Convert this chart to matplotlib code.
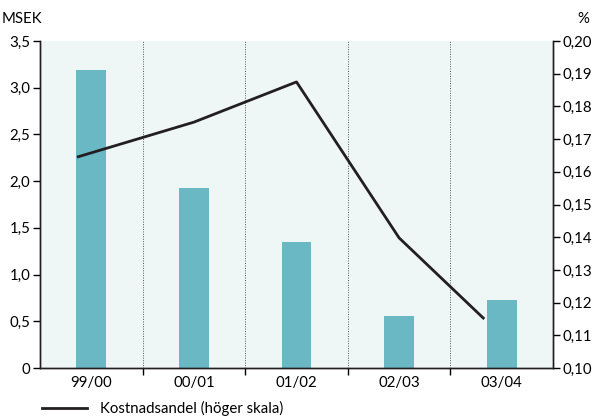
import matplotlib
matplotlib.use("Agg")
import matplotlib.pyplot as plt
import numpy as np
from matplotlib.lines import Line2D

plt.rcParams['font.family'] = ['Lato', 'DejaVu Sans']

# data
periods = ['99/00', '00/01', '01/02', '02/03', '03/04']
msek = [3.19, 1.93, 1.35, 0.56, 0.73]
andel = [0.1645, 0.1752, 0.1875, 0.1398, 0.115]
# line end points sit slightly inside the outer bars
andel_pos = [-0.14, 1, 2, 3, 3.83]

bar_col = '#6ab8c4'
bg_col = '#eff6f6'
line_col = '#231f20'
fs = 10.8

fig = plt.figure(figsize=(5.92, 4.19), dpi=100)
ax = fig.add_axes([0.0676, 0.1217, 0.8665, 0.7803])
ax.set_facecolor(bg_col)

x = np.arange(len(periods))
ax.bar(x, msek, width=0.29, color=bar_col, zorder=2)
ax.set_xlim(-0.5, len(periods) - 0.5)
ax.set_ylim(0, 3.5)
ax.set_yticks(np.arange(0, 3.51, 0.5))
ax.set_yticklabels(['0'] + [('%.1f' % v).replace('.', ',') for v in np.arange(0.5, 3.51, 0.5)])

for b in np.arange(0.5, len(periods) - 0.5, 1):
    ax.axvline(b, color='#555555', lw=0.7, ls=(0, (1, 1.5)), zorder=1)

ax.set_xticks(np.arange(0.5, len(periods) - 0.5, 1))
ax.set_xticklabels([])
ax.set_xticks(x, minor=True)
ax.set_xticklabels(periods, minor=True)
ax.tick_params(axis='x', which='minor', length=0, pad=6, labelsize=fs)
ax.tick_params(axis='x', which='major', direction='out', length=5, width=1)
ax.tick_params(axis='y', direction='out', length=5, width=1, labelsize=fs, pad=2)

ax2 = ax.twinx()
ax2.set_ylim(0.10, 0.20)
ax2.set_yticks(np.arange(0.10, 0.2001, 0.01))
ax2.set_yticklabels([('%.2f' % v).replace('.', ',') for v in np.arange(0.10, 0.2001, 0.01)])
ax2.tick_params(axis='y', direction='out', length=5, width=1, labelsize=fs, pad=2)
ax2.plot(andel_pos, andel, color=line_col, lw=2, zorder=5, solid_capstyle='butt')

for a in (ax, ax2):
    a.spines['top'].set_visible(False)
    for s in ('left', 'right', 'bottom'):
        a.spines[s].set_color('#231f20')
        a.spines[s].set_linewidth(1)

fig.text(0.003, 0.955, 'MSEK', fontsize=fs, va='center', ha='left')
fig.text(0.995, 0.955, '%', fontsize=fs, va='center', ha='right')

fig.legend(handles=[Line2D([], [], color=line_col, lw=2)],
           labels=['Kostnadsandel (höger skala)'],
           loc='lower left', bbox_to_anchor=(0.048, -0.025), frameon=False,
           fontsize=fs, handlelength=3.0, handletextpad=0.9)

fig.savefig('out.png', dpi=100)
